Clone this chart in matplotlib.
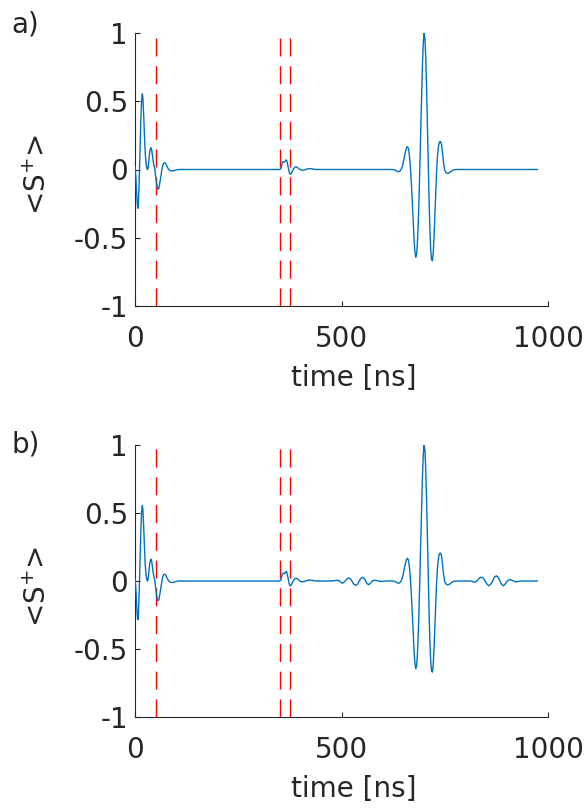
import matplotlib
matplotlib.use("Agg")
import matplotlib.pyplot as plt
import numpy as np

# ---------------- data ----------------
# initial free-induction decay after first pulse
t_fid = [0, 2, 4, 6, 7, 8, 10, 12, 14, 16, 17.7, 19, 21, 23, 25, 27, 29, 30.7,
         32, 34, 36, 38.7, 40, 42, 44, 46, 48, 50, 52, 54, 56, 58, 60, 62, 64,
         66, 68, 70, 72, 74, 76, 78, 80, 83, 86, 90, 94, 98, 102, 106, 110]
s_fid = [0.02, -0.05, -0.18, -0.27, -0.285, -0.26, -0.10, 0.12, 0.35, 0.51, 0.555,
         0.53, 0.40, 0.24, 0.11, 0.04, 0.005, 0.0, 0.02, 0.08, 0.14, 0.16, 0.15,
         0.11, 0.06, 0.03, 0.0, -0.05, -0.10, -0.135, -0.146, -0.135, -0.10, -0.06,
         -0.02, 0.015, 0.038, 0.048, 0.05, 0.045, 0.033, 0.02, 0.008, -0.003,
         -0.009, -0.011, -0.009, -0.005, -0.002, 0.0, 0.0]

# small echo around the second/third pulses
t_echo1 = [345, 350, 353, 355, 357, 359, 361, 363, 365, 366.5, 368, 370, 372, 374,
           376, 378, 381, 384, 387, 390, 393, 396, 400, 405, 410, 415, 420, 424,
           430, 436, 442]
s_echo1 = [0.0, 0.0, 0.005, 0.03, 0.055, 0.057, 0.053, 0.058, 0.068, 0.07, 0.06,
           0.03, 0.0, -0.028, -0.035, -0.03, -0.012, 0.005, 0.017, 0.02, 0.016,
           0.008, -0.002, -0.006, -0.004, 0.002, 0.006, 0.007, 0.004, 0.001, 0.0]

# main echo
t_echo2 = [620, 628, 632, 636, 639, 642, 645, 648, 651, 654, 657, 659.5, 662, 664,
           666, 668, 670, 672, 674, 676, 678, 680, 682, 684, 686, 688, 690, 692,
           694, 696, 698, 700, 702, 704, 706, 708, 710, 712, 714, 716, 718, 720,
           722, 724, 726, 728, 730, 732, 734, 736, 738, 740, 742, 744, 746, 748,
           750, 753, 756, 759, 762, 766, 770, 775, 780, 790]
s_echo2 = [0.0, -0.002, -0.008, -0.015, -0.016, -0.01, 0.005, 0.03, 0.075, 0.12,
           0.155, 0.168, 0.155, 0.115, 0.05, -0.04, -0.15, -0.28, -0.41, -0.53,
           -0.61, -0.645, -0.62, -0.53, -0.38, -0.18, 0.05, 0.30, 0.55, 0.77, 0.93,
           1.0, 0.96, 0.82, 0.60, 0.33, 0.05, -0.22, -0.44, -0.59, -0.66, -0.67,
           -0.62, -0.50, -0.34, -0.17, -0.03, 0.08, 0.15, 0.19, 0.205, 0.205, 0.185,
           0.14, 0.08, 0.03, -0.005, -0.022, -0.028, -0.028, -0.022, -0.012, -0.005,
           -0.001, 0.0, 0.0]

# extra ripples present only in panel b)
t_rip1 = [470, 480, 486, 492, 497, 502, 506, 510, 514, 518, 522, 526, 530, 535,
          539, 543, 547, 551, 555, 559, 562, 566, 570, 574, 578, 582, 587, 592,
          597, 603, 610]
s_rip1 = [0.0, 0.001, 0.004, 0.005, -0.004, -0.017, -0.008, 0.005, 0.018, 0.022,
          0.014, -0.005, -0.024, -0.032, -0.022, 0.0, 0.02, 0.027, 0.018, -0.002,
          -0.02, -0.027, -0.016, -0.002, 0.004, 0.005, 0.002, -0.002, -0.003,
          -0.001, 0.0]
t_rip2 = [800, 812, 817, 823, 828, 832, 836, 840, 844, 848, 852, 857, 861, 866,
          870, 875, 879, 883, 887, 892, 896, 900, 905, 909, 914, 919, 924, 930, 936]
s_rip2 = [0.0, 0.0, -0.004, -0.01, 0.0, 0.015, 0.026, 0.028, 0.018, 0.0, -0.022,
          -0.035, -0.024, 0.0, 0.028, 0.038, 0.028, 0.005, -0.022, -0.035, -0.024,
          -0.005, 0.008, 0.011, 0.004, -0.004, -0.006, -0.002, 0.0]

t_end = [974]
s_end = [0.0]

pulse_times = [50, 350, 375]
panel_labels = ["a)", "b)"]
x_ticks = [0, 500, 1000]
y_ticks = [-1, -0.5, 0, 0.5, 1]
y_ticklabels = ["-1", "-0.5", "0", "0.5", "1"]

t_a = t_fid + t_echo1 + t_echo2 + t_end
s_a = s_fid + s_echo1 + s_echo2 + s_end
t_b = t_fid + t_echo1 + t_rip1 + t_echo2 + t_rip2 + t_end
s_b = s_fid + s_echo1 + s_rip1 + s_echo2 + s_rip2 + s_end

# ---------------- figure ----------------
W, H = 588, 808
fig = plt.figure(figsize=(W / 100, H / 100), dpi=100)
plt.rcParams['font.family'] = ['DejaVu Sans']
plt.rcParams['mathtext.fontset'] = 'dejavusans'

axcol = '#262626'
fs = 20

def make_axes(top_px, bot_px):
    left, right = 135, 548
    return fig.add_axes([left / W, 1 - bot_px / H, (right - left) / W,
                         (bot_px - top_px) / H])

ax_a = make_axes(33.3, 305.7)
ax_b = make_axes(445, 717)

for ax, t, s, lab, ytop in [(ax_a, t_a, s_a, panel_labels[0], 10),
                             (ax_b, t_b, s_b, panel_labels[1], 430)]:
    ax.plot(t, s, color='#0072BD', lw=1.0, zorder=3)
    for p in pulse_times:
        ax.plot([p, p], [-1, 1], color='red', lw=1.0,
                linestyle=(0, (13, 7)), zorder=2)
    ax.set_xlim(0, 1000)
    ax.set_ylim(-1, 1)
    ax.set_xticks(x_ticks)
    ax.set_yticks(y_ticks)
    ax.set_yticklabels(y_ticklabels)
    for side in ['top', 'right']:
        ax.spines[side].set_visible(False)
    for side in ['left', 'bottom']:
        ax.spines[side].set_color(axcol)
        ax.spines[side].set_linewidth(0.8)
    ax.tick_params(axis='both', direction='in', length=3.5, width=0.8,
                   colors=axcol, labelsize=fs)
    ax.tick_params(axis='x', pad=14)
    ax.tick_params(axis='y', pad=5)
    ax.set_xlabel('time [ns]', fontsize=fs, color=axcol)
    ax.xaxis.set_label_coords(0.529, -0.265)
    ax.xaxis.label.set_verticalalignment('center')
    ax.set_ylabel(r'<S$^{+}$>', fontsize=fs, color=axcol)
    ax.yaxis.set_label_coords(-0.235, 0.48)
    ax.yaxis.label.set_verticalalignment('center')
    fig.text(11 / W, 1 - ytop / H, lab, fontsize=fs, color=axcol,
             ha='left', va='top')

fig.savefig('out.png', dpi=100)
